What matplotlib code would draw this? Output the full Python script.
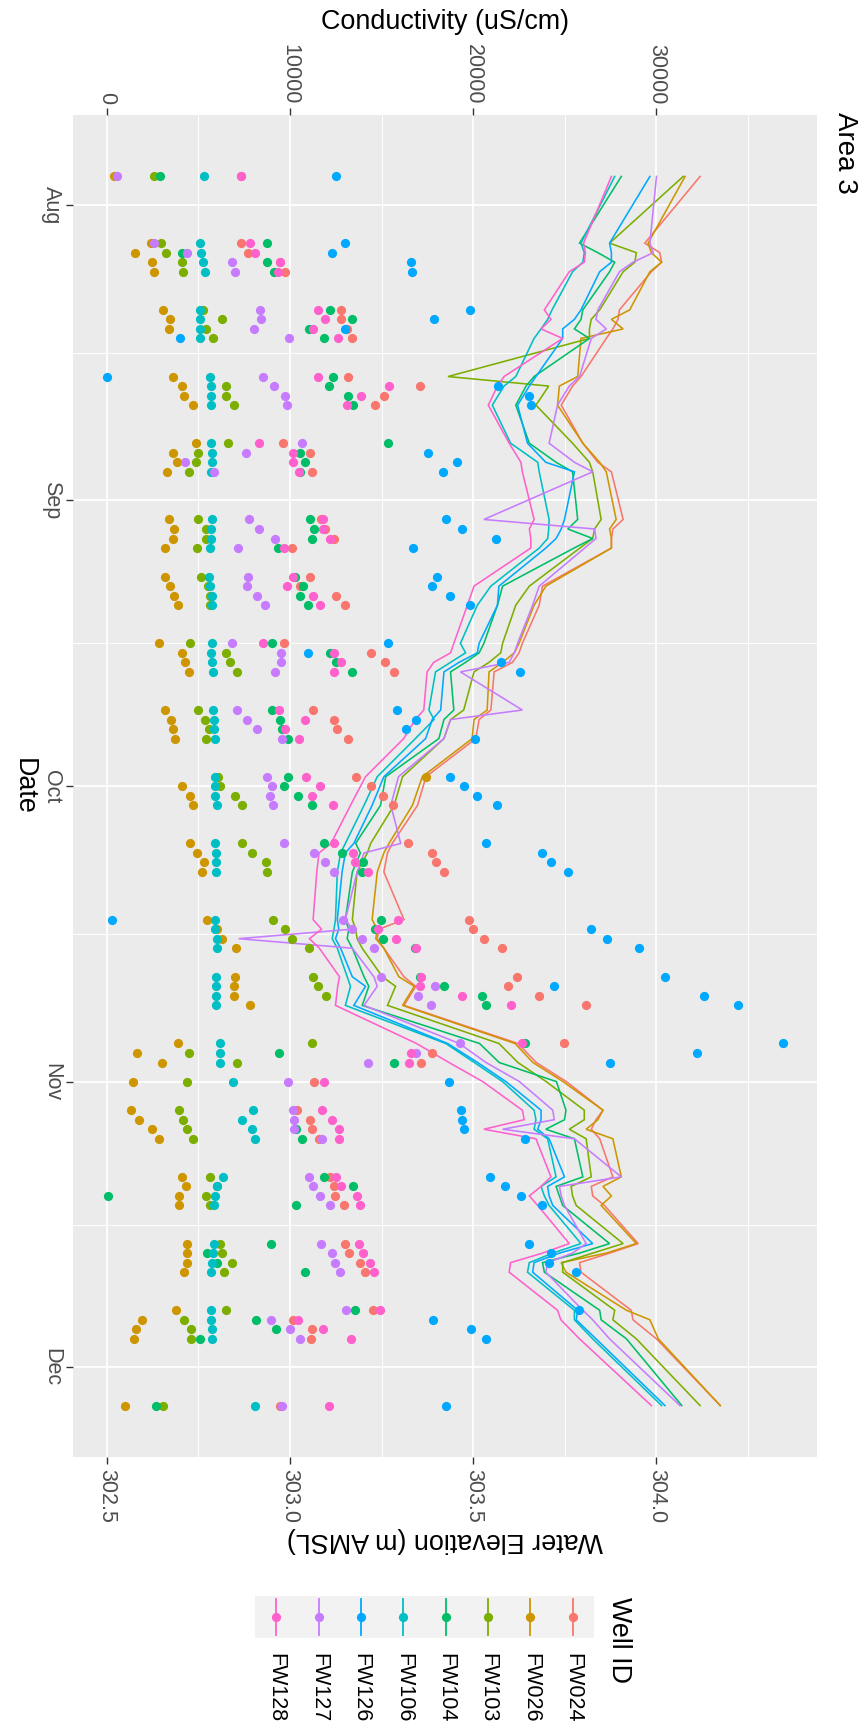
import numpy as np
import matplotlib
matplotlib.use("Agg")
import matplotlib.pyplot as plt
import matplotlib.dates as mdates

plt.rcParams['font.family'] = ['Liberation Sans', 'DejaVu Sans']

nan = np.nan

wells = ["FW024", "FW026", "FW103", "FW104", "FW106", "FW126", "FW127", "FW128"]
colours = ["#F8766D", "#CD9600", "#7CAE00", "#00BE67", "#00BFC4", "#00A9FF", "#C77CFF", "#FF61CC"]

# conductivity sampling days (uS/cm)
sample_dates = ["2019-07-29",
                "2019-08-05", "2019-08-06", "2019-08-07", "2019-08-08",
                "2019-08-12", "2019-08-13", "2019-08-14", "2019-08-15",
                "2019-08-19", "2019-08-20", "2019-08-21", "2019-08-22",
                "2019-08-26", "2019-08-27", "2019-08-28", "2019-08-29",
                "2019-09-03", "2019-09-04", "2019-09-05", "2019-09-06",
                "2019-09-09", "2019-09-10", "2019-09-11", "2019-09-12",
                "2019-09-16", "2019-09-17", "2019-09-18", "2019-09-19",
                "2019-09-23", "2019-09-24", "2019-09-25", "2019-09-26",
                "2019-09-30", "2019-10-01", "2019-10-02", "2019-10-03",
                "2019-10-07", "2019-10-08", "2019-10-09", "2019-10-10",
                "2019-10-15", "2019-10-16", "2019-10-17", "2019-10-18",
                "2019-10-21", "2019-10-22", "2019-10-23", "2019-10-24",
                "2019-10-28", "2019-10-29", "2019-10-30", "2019-11-01",
                "2019-11-04", "2019-11-05", "2019-11-06", "2019-11-07",
                "2019-11-11", "2019-11-12", "2019-11-13", "2019-11-14",
                "2019-11-18", "2019-11-19", "2019-11-20", "2019-11-21",
                "2019-11-25", "2019-11-26", "2019-11-27", "2019-11-28",
                "2019-12-05"]

cond_fw024 = [7300,
              7340, 7690, 9460, 9750, 12770, 12770, 13120, 13360,
              13170, 17090, 15110, 14630, 9620, 11080, nan, 11180,
              11710, 11930, 12380, 10100, 11080, 10520, 12510, 13010,
              9670, 14420, 15160, 15690, 11260, 12400, 12560, 13170,
              13620, 14420, 15100, 15600, 16420, 17730, 17950, 18430,
              19770, 20010, 20610, 21590, 22390, 21920, 23590, 26140,
              24930, 17730, 17150, 11290, 10360, 11100, 11210, 11580,
              12160, 12380, 12460, 12960, 13010, 13200, 13810, 14070,
              14550, 10180, 11210, 11130,
              9460]
cond_fw026 = [400,
              2390, 1560, 2440, 2570, 3050, 3450, 3370, nan,
              3630, 4080, 4190, 4690, 4880, 3630, 3840, 3310,
              3420, 3660, 3600, 3180, 3150, 3450, 3660, 3870,
              2860, 4110, 4240, 4510, 3150, 3520, 3630, 3710,
              17410, 4110, 4560, 4720, 4560, 4930, 5330, 5170,
              5460, 6020, 6280, 7050, 7000, 6940, 6940, 7840,
              3870, 1620, 3020, 1430, 1330, 1780, 2490, 2840,
              4110, 4320, 3950, 3950, 4370, 4350, 4350, 4210,
              3790, 1910, 1590, 1510,
              1010]
cond_fw103 = [2570,
              2970, 3230, 4080, 4160, 5270, 6280, 5410, 5800,
              nan, 6520, 6520, 6920, 6630, 4960, 4880, 4480,
              4980, 5430, 5430, 4930, 5140, 5510, 5620, 5620,
              4530, 6520, 6730, 7100, 4960, 5350, 5590, 5410,
              6070, 6200, 7020, 7390, 7390, 7920, 8670, 8720,
              9090, 9730, 10120, 11050, 11240, 11500, 11980, nan,
              11180, 4510, 7100, 4370, 3950, 4160, 4400, 4690,
              5620, 6020, 5430, 5620, 6150, 6280, 6810, 6390,
              6520, 4190, 4580, 4610,
              3070]
cond_fw104 = [2890,
              8750, 4110, 8720, 9120, 12190, 13380, 11050, 11870,
              12320, 12110, 13170, 13440, 15340, 10520, 10790, 10570,
              11100, 11320, 11180, 9350, 10280, 10710, 10550, 11000,
              9010, 12190, 12530, 13360, 9010, 9460, 9540, 9880,
              9910, 9650, 10440, 11180, 11870, 12850, 13970, 13910,
              14970, 14640, 15100, 16800, 17070, 18420, 20460, 20670,
              22840, 9380, 15690, nan, nan, nan, 10340, 10650,
              11850, 13460, 50, 10310, 8980, 5490, 6040, 10810,
              13520, 8140, 9220, 5090,
              2700]
cond_fw106 = [5300,
              5090, 5140, 5270, 5380, 5090, 5090, 5110, 5090,
              5620, 5670, 5670, 5670, 5700, 5750, 5750, 5700,
              5750, 5700, 5670, 5640, 5590, 5620, 5720, 5720,
              5720, 5670, 5720, 5780, 5780, 5830, 5830, 5880,
              5880, 5880, 5910, 5990, 5910, 5960, 5960, 5940,
              5910, 5910, 5990, 5990, 5960, 5960, 5960, 5960,
              6200, 6170, 6200, 6860, 8000, 7390, 7950, 8080,
              6330, 6040, 5880, 5830, 5830, 5780, 5720, 5670,
              5700, 5700, 5750, 5750,
              8110]
cond_fw126 = [12510,
              13010, 12270, 16590, 16640, 19800, 17860, 13010, 3980,
              0, 21330, 23030, 23130, nan, 17540, 19110, 18340,
              18500, 19370, 21250, 16720, 18020, 17760, 18710, 19800,
              15320, 10970, 21520, 22550, 15820, 16880, 16350, 20090,
              18740, 19480, 20190, 21310, 20700, 23740, 24250, 25180,
              270, 26420, 27300, 29040, 30480, 24410, 32600, 34450,
              36920, 32200, 27480, 18680, 19320, 19400, 19500, 22840,
              20940, 21730, 22600, 23770, 23030, 24270, 24140, 25600,
              25780, 17810, 19850, 20720,
              18520]
cond_fw127 = [530,
              2570, 4370, 6810, 7000, 8350, 8400, 8030, 9960,
              8530, 9120, 9750, 9830, 10650, 7610, 4240, 5830,
              7760, 8290, 9170, 7180, 7690, 7630, 8220, 8640,
              6810, 9510, 9510, 9170, 7100, 7660, 8220, 9540,
              8720, 9010, 8880, 9060, 9650, 11290, 11900, 12400,
              12910, 13380, 13940, 14580, 14950, 17890, 16960, 17700,
              19270, 16850, 14260, 9910, 10150, 10200, 10200, 11740,
              11020, 11260, 11610, 12160, 11710, 12270, 12460, 12720,
              13060, 8980, 9990, 10550,
              9540]
cond_fw128 = [7340,
              7790, 8080, 9460, 9330, 11500, 11930, 11260, 12610,
              11500, 15400, 13890, 13090, 8290, 10150, 10150, 10470,
              11820, 11820, 12160, 9650, 10150, 9860, 11240, 11630,
              8530, 12400, 12770, 12380, 9410, 10790, 9750, 10470,
              10890, 11610, 11180, 12320, 12380, 13440, 13520, 14280,
              15900, 14820, 15770, 16880, 17170, 17120, 19370, 22070,
              22660, 16620, 16510, 11850, 11770, 12270, 12670, 12690,
              12530, 12800, 13650, 13810, 13780, 13970, 14360, 14600,
              14890, 10440, 11820, 13300,
              12140]

# water elevation (m AMSL)
level_dates = ["2019-07-29",
               "2019-08-05", "2019-08-06", "2019-08-07", "2019-08-08", "2019-08-12", "2019-08-13", "2019-08-14",
               "2019-08-15", "2019-08-19", "2019-08-20", "2019-08-22", "2019-08-26", "2019-08-28", "2019-08-29",
               "2019-09-03", "2019-09-04", "2019-09-05", "2019-09-06", "2019-09-10", "2019-09-12", "2019-09-16",
               "2019-09-17", "2019-09-18", "2019-09-19", "2019-09-23", "2019-09-24", "2019-09-26", "2019-09-30",
               "2019-10-03", "2019-10-07", "2019-10-08", "2019-10-10", "2019-10-15", "2019-10-16", "2019-10-17",
               "2019-10-18", "2019-10-21", "2019-10-22", "2019-10-24", "2019-10-28", "2019-10-30",
               "2019-11-01", "2019-11-04", "2019-11-05", "2019-11-06", "2019-11-07", "2019-11-11", "2019-11-12",
               "2019-11-13", "2019-11-14", "2019-11-18", "2019-11-19", "2019-11-20", "2019-11-21", "2019-11-25",
               "2019-11-26", "2019-11-28",
               "2019-12-05"]

level_fw024 = [304.119,
               303.968, 304.009, 304.014, 303.986, 303.899, 303.895, 303.881,
               303.863, 303.794, 303.771, 303.740, 303.799, 303.840, 303.877,
               303.909, 303.881, 303.877, 303.877, 303.689, 303.680, 303.634,
               303.625, 303.607, 303.557, 303.548, 303.516, 303.507, 303.371,
               303.348, 303.279, 303.266, 303.256, 303.311, 303.243, 303.238,
               303.256, 303.311, 303.343, 303.311, 303.622, 303.672,
               303.754, 303.854, 303.835, 303.822, 303.845, 303.881, 303.822,
               303.826, 303.858, 303.950, 303.872, 303.790, 303.794, 303.931,
               303.936, 304.000,
               304.174]
level_fw026 = [304.078,
               303.977, 303.986, 304.014, 303.982, 303.927, 303.877, 303.909,
               303.794, 303.785, 303.735, 303.730, 303.799, 303.845, 303.863,
               303.890, 303.872, 303.877, 303.877, 303.698, 303.666, 303.625,
               303.612, 303.580, 303.543, 303.538, 303.502, 303.497, 303.361,
               303.334, 303.270, 303.256, 303.238, 303.224, 303.238, 303.234,
               303.256, 303.297, 303.339, 303.307, 303.614, 303.663,
               303.745, 303.854, 303.840, 303.808, 303.881, 303.904, 303.854,
               303.877, 303.849, 303.945, 303.863, 303.740, 303.753, 303.918,
               303.982, 304.005,
               304.174]
level_fw103 = [304.073,
               303.872, 303.945, 303.941, 303.909, 303.845, 303.822, 303.817,
               303.817, 303.431, 303.706, 303.671, 303.771, 303.817, 303.826,
               303.849, 303.831, 303.826, 303.791, 303.653, 303.616, 303.580,
               303.575, 303.543, 303.502, 303.474, 303.438, 303.420, 303.307,
               303.284, 303.220, 303.211, 303.183, 303.170, 303.179, 303.183,
               303.197, 303.252, 303.288, 303.266, 303.570, 303.622,
               303.699, 303.803, 303.803, 303.762, 303.808, 303.822, 303.767,
               303.771, 303.781, 303.909, 303.826, 303.744, 303.744, 303.886,
               303.881, 303.945,
               304.119]
level_fw104 = [303.904,
               303.790, 303.840, 303.886, 303.872, 303.799, 303.794, 303.776,
               303.817, 303.666, 303.644, 303.616, 303.653, 303.726, 303.771,
               303.785, 303.758, 303.826, 303.775, 303.580, 303.566, 303.529,
               303.516, 303.479, 303.438, 303.447, 303.420, 303.406, 303.261,
               303.247, 303.179, 303.192, 303.170, 303.151, 303.160, 303.156,
               303.170, 303.202, 303.215, 303.197, 303.517, 303.571,
               303.727, 303.753, 303.749, 303.698, 303.776, 303.799, 303.726,
               303.735, 303.744, 303.872, 303.790, 303.689, 303.694, 303.845,
               303.849, 303.918,
               304.069]
level_fw106 = [303.886,
               303.794, 303.803, 303.799, 303.771, 303.715, 303.703, 303.685,
               303.666, 303.616, 303.584, 303.552, 303.602, 303.676, 303.680,
               303.707, 303.706, 303.703, 303.680, 303.548, 303.511, 303.465,
               303.479, 303.438, 303.397, 303.379, 303.393, 303.342, 303.238,
               303.202, 303.151, 303.138, 303.129, 303.124, 303.120, 303.115,
               303.129, 303.156, 303.165, 303.151, 303.425, 303.503,
               303.580, 303.666, 303.671, 303.666, 303.703, 303.726, 303.685,
               303.694, 303.707, 303.794, 303.717, 303.653, 303.648, 303.776,
               303.776, 303.826,
               304.014]
level_fw126 = [303.982,
               303.872, 303.877, 303.877, 303.845, 303.794, 303.776, 303.744,
               303.744, 303.671, 303.653, 303.621, 303.648, 303.698, 303.776,
               303.749, 303.740, 303.726, 303.698, 303.570, 303.566, 303.516,
               303.511, 303.461, 303.420, 303.411, 303.388, 303.370, 303.256,
               303.224, 303.174, 303.151, 303.142, 303.129, 303.133, 303.124,
               303.138, 303.170, 303.206, 303.174, 303.430, 303.512,
               303.589, 303.685, 303.685, 303.676, 303.707, 303.749, 303.703,
               303.707, 303.717, 303.826, 303.735, 303.666, 303.662, 303.785,
               303.781, 303.835,
               304.023]
level_fw127 = [304.000,
               303.982, 303.991, 303.936, 303.899, 303.840, 303.835, 303.863,
               303.822, 303.790, 303.762, 303.730, 303.707, 303.776, 303.826,
               303.529, 303.831, 303.835, 303.804, 303.680, 303.662, 303.621,
               303.612, 303.598, 303.465, 303.634, 303.438, 303.420, 303.296,
               303.275, 303.302, 303.202, 303.183, 303.151, 303.170, 302.860,
               303.170, 303.229, 303.238, 303.202, 303.462, 303.535,
               303.626, 303.717, 303.721, 303.580, 303.776, 303.904, 303.735,
               303.740, 303.749, 303.808, 303.771, 303.703, 303.698, 303.799,
               303.826, 303.872,
               304.064]
level_fw128 = [303.877,
               303.801, 303.806, 303.803, 303.762, 303.694, 303.712, 303.685,
               303.744, 303.584, 303.566, 303.541, 303.598, 303.630, 303.634,
               303.666, 303.653, 303.657, 303.657, 303.502, 303.484, 303.447,
               303.438, 303.392, 303.374, 303.365, 303.342, 303.310, 303.206,
               303.165, 303.112, 303.079, 303.073, 303.063, 303.086, 303.053,
               303.080, 303.135, 303.130, 303.124, 303.345, 303.434,
               303.526, 303.634, 303.639, 303.529, 303.671, 303.712, 303.685,
               303.653, 303.676, 303.762, 303.689, 303.602, 303.598, 303.730,
               303.739, 303.790,
               303.986]

conds = [cond_fw024, cond_fw026, cond_fw103, cond_fw104, cond_fw106, cond_fw126, cond_fw127, cond_fw128]
levels = [level_fw024, level_fw026, level_fw103, level_fw104, level_fw106, level_fw126, level_fw127, level_fw128]


# secondary axis: 10000 uS/cm per 0.5 m, 0 at 302.5 m
def elev_to_cond(e):
    return (np.asarray(e) - 302.5) * 20000.0


def cond_to_elev(c):
    return 302.5 + np.asarray(c) / 20000.0


sday = mdates.date2num(np.array(sample_dates, dtype='datetime64[D]'))
lday = mdates.date2num(np.array(level_dates, dtype='datetime64[D]'))
aug1 = mdates.date2num(np.datetime64('2019-08-01'))

W, H = 867, 1730
fig = plt.figure(figsize=(W / 100, H / 100), dpi=100)
ax = fig.add_axes([73 / W, 1 - 1457 / H, 744 / W, 1342 / H])
ax.set_facecolor('#EBEBEB')
for s in ax.spines.values():
    s.set_visible(False)

for i in range(len(wells)):
    ax.plot(elev_to_cond(levels[i]), lday, color=colours[i], lw=1.15, zorder=3 + i * 0.01,
            solid_joinstyle='miter')
for i in range(len(wells)):
    ax.scatter(conds[i], sday, s=44, color=colours[i], linewidths=0, zorder=4 + i * 0.01)

ax.set_xlim(-1846, 38761)
ax.set_ylim(aug1 + 131.4, aug1 - 9.45)

month_starts = mdates.date2num(np.array(["2019-08-01", "2019-09-01", "2019-10-01",
                                         "2019-11-01", "2019-12-01"], dtype='datetime64[D]'))
ax.set_yticks(month_starts, ["Aug", "Sep", "Oct", "Nov", "Dec"], rotation=-90, va='center')
ax.set_yticks((month_starts[:-1] + month_starts[1:]) / 2, minor=True)
ax.set_xticks([0, 10000, 20000, 30000], ["0", "10000", "20000", "30000"])
ax.set_xticks([5000, 15000, 25000, 35000], minor=True)
ax.xaxis.tick_top()

ax.grid(which='major', color='white', lw=1.25)
ax.grid(which='minor', color='white', lw=0.65)
ax.set_axisbelow(True)
ax.tick_params(which='minor', length=0)
ax.tick_params(axis='both', which='major', length=4.8, width=1.0, color='#333333',
               labelcolor='#4D4D4D', labelsize=15.5, pad=3)
ax.tick_params(axis='x', labelrotation=-90)

sec = ax.secondary_xaxis('bottom', functions=(cond_to_elev, elev_to_cond))
sec.set_xticks([302.5, 303.0, 303.5, 304.0], ["302.5", "303.0", "303.5", "304.0"])
sec.tick_params(length=4.8, width=1.0, color='#333333', labelcolor='#4D4D4D',
                labelsize=15.5, pad=4, labelrotation=-90)
for s in sec.spines.values():
    s.set_visible(False)

fig.text(445 / W, 1 - 22 / H, "Conductivity (uS/cm)", ha='center', va='center', size=19.4)
fig.text(445 / W, 1 - 1540 / H, "Water Elevation (m AMSL)", ha='center', va='center',
         size=19.4, rotation=180)
fig.text(24 / W, 1 - 786 / H, "Date", ha='center', va='center', size=19.4, rotation=-90)
fig.text(845 / W, 1 - 112 / H, "Area 3", ha='center', va='top', size=20, rotation=-90)

# legend, drawn by hand because the whole chart is turned on its side
key_left, key_w, key_top, key_h = 255, 339, 1596, 42
lax = fig.add_axes([key_left / W, 1 - (key_top + key_h) / H, key_w / W, key_h / H])
lax.set_facecolor('#F2F2F2')
lax.set_xlim(0, len(wells))
lax.set_ylim(1, 0)
lax.set_xticks([])
lax.set_yticks([])
for s in lax.spines.values():
    s.set_visible(False)
order = list(range(len(wells)))[::-1]
for k, i in enumerate(order):
    lax.plot([k + 0.5, k + 0.5], [0.08, 0.92], color=colours[i], lw=1.3)
    lax.scatter([k + 0.5], [0.5], s=44, color=colours[i], linewidths=0, zorder=3)
    xc = key_left + (k + 0.5) * key_w / len(wells)
    fig.text(xc / W, 1 - 1653 / H, wells[i], ha='center', va='top', size=15.5, rotation=-90)
fig.text(619 / W, 1 - 1597 / H, "Well ID", ha='center', va='top', size=19.4, rotation=-90)

fig.savefig("out.png", dpi=100, facecolor='white')
